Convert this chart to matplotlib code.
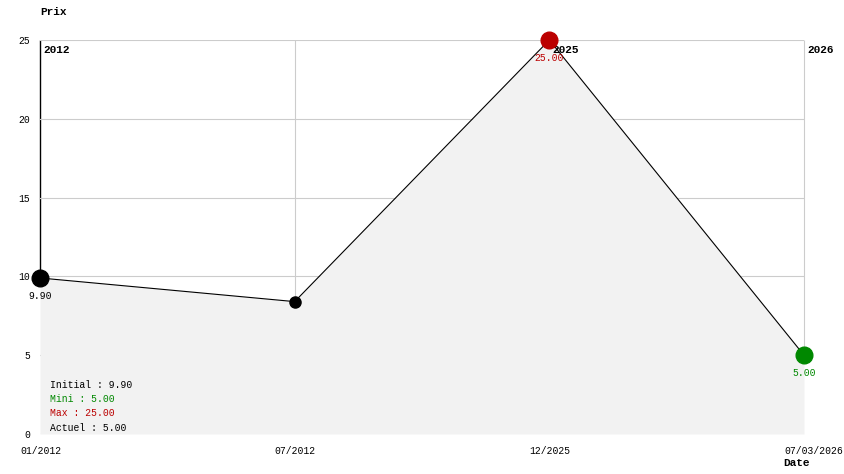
import matplotlib
matplotlib.use('Agg')
import matplotlib.pyplot as plt

# donnees
dates = ['01/2012', '07/2012', '12/2025', '07/03/2026']
prix = [9.90, 8.40, 25.00, 5.00]
annees = ['2012', '', '2025', '2026']
yticks = [0, 5, 10, 15, 20, 25]

plt.rcParams['font.family'] = ['Liberation Mono', 'DejaVu Sans Mono']
plt.rcParams['font.size'] = 7

fig = plt.figure(figsize=(8.44, 4.74), dpi=100)
ax = fig.add_axes([40/844, 40/474, 764/844, 394/474])

x = list(range(len(prix)))
ax.fill_between(x, prix, 0, color='#f2f2f2', lw=0, zorder=2)
ax.plot(x, prix, color='black', lw=0.8, zorder=3)

ax.set_xlim(0, len(prix) - 1)
ax.set_ylim(0, 25)
ax.set_yticks(yticks)
ax.set_xticks(x)
ax.set_xticklabels([])
ax.grid(True, axis='y', color='#cccccc', lw=0.8, zorder=0)
# lignes verticales du haut jusqu'au point
for i in x:
    c = 'black' if i == 0 else '#cccccc'
    ax.vlines(i, prix[i], 25, color=c, lw=1.0 if i == 0 else 0.8, zorder=1, clip_on=False)
ax.tick_params(length=0, pad=7)
for s in ['top', 'right', 'bottom', 'left']:
    ax.spines[s].set_visible(False)

for i, d in enumerate(dates):
    ax.annotate(d, (i, 0), xycoords=('data', 'axes fraction'), xytext=(-20, -17),
                textcoords='offset pixels', ha='left', va='center', annotation_clip=False)

imax = prix.index(max(prix))
imin = prix.index(min(prix))
couleurs = []
for i in x:
    if i == imax:
        couleurs.append('#bb0000')
    elif i == imin:
        couleurs.append('#008800')
    else:
        couleurs.append('black')
tailles = [12 if i in (0, imax, imin, len(prix) - 1) else 8 for i in x]
for i in x:
    ax.plot(i, prix[i], 'o', color=couleurs[i], ms=tailles[i], zorder=5, clip_on=False)
    if tailles[i] == 12:
        ax.annotate('%.2f' % prix[i], (i, prix[i]), xytext=(0, -13), textcoords='offset pixels',
                    ha='center', va='top', color=couleurs[i], zorder=6)

for i, a in enumerate(annees):
    if a:
        ax.annotate(a, (i, 25), xytext=(3, -5), textcoords='offset pixels',
                    ha='left', va='top', fontweight='bold', fontsize=8, zorder=4)

stats = [('Initial : %.2f' % prix[0], 'black'),
         ('Mini : %.2f' % min(prix), '#008800'),
         ('Max : %.2f' % max(prix), '#bb0000'),
         ('Actuel : %.2f' % prix[-1], 'black')]
for k, (t, c) in enumerate(stats):
    fig.text(50/844, 1 - (385 + k*14.2)/474, t, color=c, va='center', ha='left')

fig.text(40/844, 1 - 12/474, 'Prix', fontweight='bold', fontsize=8, va='center', ha='left')
fig.text(783/844, 1 - 463/474, 'Date', fontweight='bold', fontsize=8, va='center', ha='left')

fig.savefig('out.png', dpi=100)
